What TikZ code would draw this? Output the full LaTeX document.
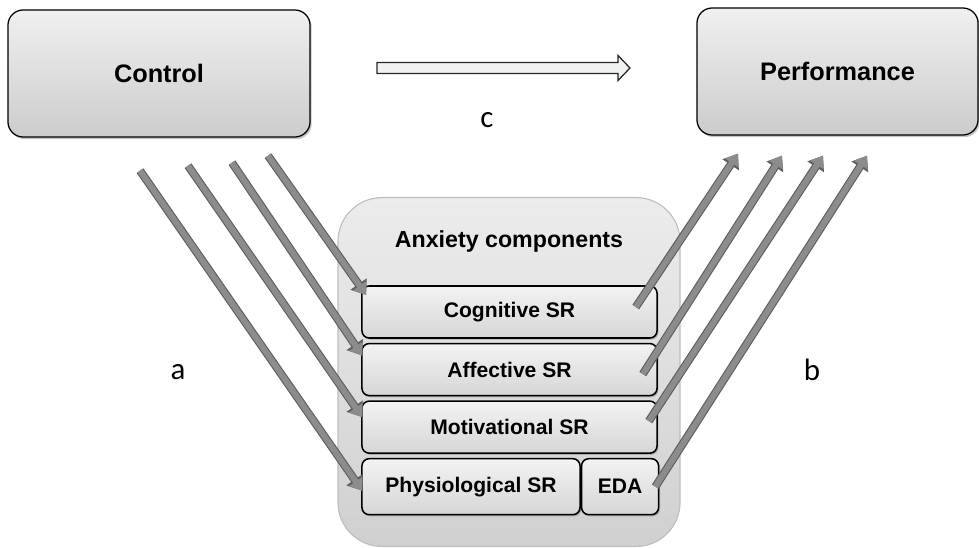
\documentclass[tikz,border=0pt]{standalone}
\usepackage{fontspec}
\setmainfont{Liberation Sans}
\newfontfamily\lblfont{Carlito}
\usetikzlibrary{arrows.meta, positioning, shadows}
\definecolor{boxTop}{RGB}{240,240,240}
\definecolor{boxBottom}{RGB}{204,204,204}
\definecolor{rowTop}{RGB}{243,243,243}
\definecolor{rowBottom}{RGB}{214,214,214}
\definecolor{groupTop}{RGB}{236,236,236}
\definecolor{groupBottom}{RGB}{208,208,208}
\definecolor{groupEdge}{RGB}{190,190,190}
\definecolor{pathGray}{RGB}{140,140,140}
\definecolor{pathEdge}{RGB}{95,95,95}
\definecolor{hollowFill}{RGB}{240,242,242}

\begin{document}
\begin{tikzpicture}[x=0.025cm, y=-0.025cm]
        \tikzstyle{bigbox} = [rectangle, rounded corners=0.38cm, minimum width=7.55cm, minimum height=3.175cm, draw=black, line width=0.9pt, top color=boxTop, bottom color=boxBottom, font=\fontsize{18}{20}\selectfont\bfseries, drop shadow={shadow xshift=1.2pt, shadow yshift=-1.5pt, fill=black!45}]
        \tikzstyle{group} = [rectangle, rounded corners=1.1cm, minimum width=8.55cm, minimum height=8.72cm, draw=groupEdge, line width=0.8pt, top color=groupTop, bottom color=groupBottom]
        \tikzstyle{row} = [rectangle, rounded corners=0.18cm, minimum height=1.3cm, inner sep=0pt, draw=black, line width=1.1pt, top color=rowTop, bottom color=rowBottom, font=\fontsize{15}{17}\selectfont\bfseries, drop shadow={shadow xshift=1pt, shadow yshift=-1.2pt, fill=black!50}]
        \tikzstyle{letter} = [font=\lblfont\fontsize{22}{24}\selectfont]
        \tikzstyle{hollow} = [draw=black!85, line width=0.9pt, fill=hollowFill]
        \tikzstyle{link} = [-{Triangle[length=8pt, width=11pt]}, line width=4.2pt, draw=pathGray, preaction={draw=pathEdge, line width=5.8pt, -{Triangle[length=9.5pt, width=13.5pt]}}]

        \useasboundingbox (0,0) rectangle (979,547);

        \node[bigbox] (control) at (159,73.5) {Control};
        \node[bigbox, minimum width=7.025cm] (perf) at (837.5,71.5) {Performance};

        \node[group] (anx) at (509,372) {};
        \node[font=\fontsize{16.5}{18}\selectfont\bfseries] (anxtitle) at ([yshift=-1.12cm]anx.north) {Anxiety components};

        \node[row, minimum width=7.375cm] (cog) at (509.5,312) {Cognitive SR};
        \node[row, minimum width=7.375cm, below=0.1cm of cog] (aff) {Affective SR};
        \node[row, minimum width=7.375cm, below=0.1cm of aff] (mot) {Motivational SR};
        \node[row, minimum width=5.45cm, minimum height=1.4cm, anchor=north west] (phys) at ([yshift=-0.1cm]mot.south west) {Physiological SR};
        \node[row, minimum width=1.925cm, minimum height=1.4cm, right=0pt of phys] (eda) {EDA};

        \coordinate (cstart) at (377,68);
        \coordinate (cend) at (630,68);
        \draw[hollow] (cstart) -- ++(0,-5.5) -- ++(241,0) -- ++(0,-7) -- (cend) -- ++(-12,12.5) -- ++(0,-7) -- ++(-241,0) -- cycle;

        \node[letter] (lbla) at (178,372) {a};
        \node[letter] (lblb) at (812,370) {b};
        \node[letter] (lblc) at (487,120) {c};

        \draw[link] ([shift={(109,18)}]control.south) -- ([shift={(5,-17)}]cog.west);
        \draw[link] ([shift={(73,25)}]control.south) -- ([shift={(1,-14)}]aff.west);
        \draw[link] ([shift={(29,28)}]control.south) -- ([shift={(1,-10)}]mot.west);
        \draw[link] ([shift={(-19,33)}]control.south) -- ([shift={(1,4)}]phys.west);

        \draw[link] ([shift={(-22,-5)}]cog.east) -- ([shift={(-99.5,18)}]perf.south);
        \draw[link] ([shift={(-15,4.5)}]aff.east) -- ([shift={(-55.5,20)}]perf.south);
        \draw[link] ([shift={(-9,-6)}]mot.east) -- ([shift={(-14.5,20)}]perf.south);
        \draw[link] ([shift={(-4,0)}]eda.east) -- ([shift={(29.5,20)}]perf.south);
    \end{tikzpicture}
\end{document}
